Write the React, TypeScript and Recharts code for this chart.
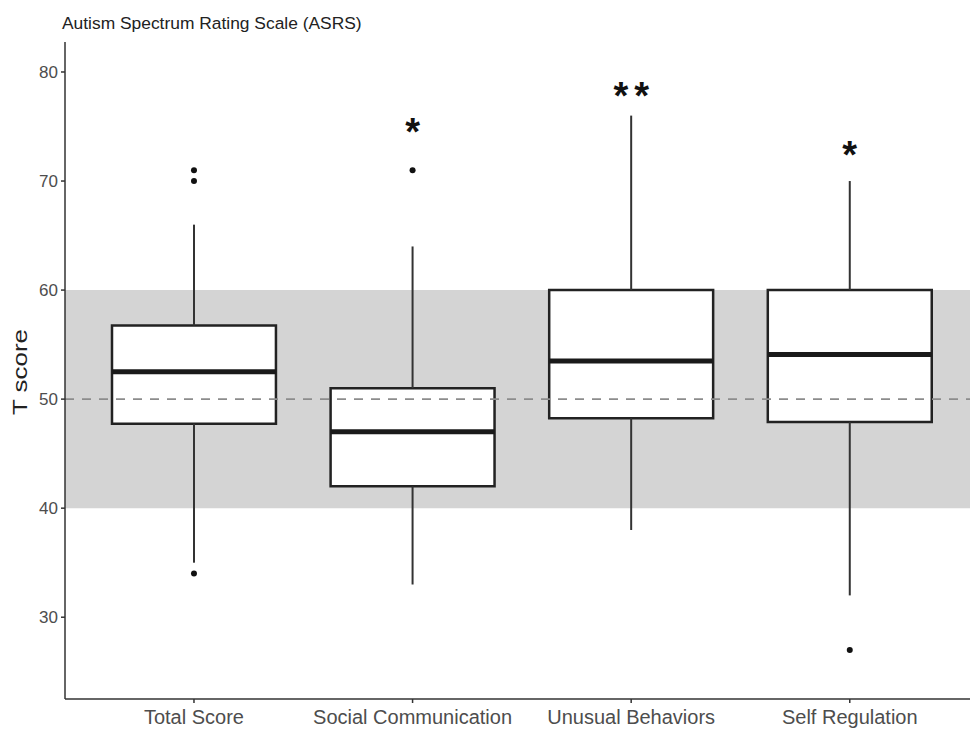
import {
  ComposedChart,
  XAxis,
  YAxis,
  ReferenceArea,
  ReferenceLine,
  Scatter,
} from 'recharts';

const categories = ['Total Score', 'Social Communication', 'Unusual Behaviors', 'Self Regulation'];
const whiskerLow = [35, 33, 38, 32];
const q1 = [47.75, 42, 48.25, 47.9];
const medians = [52.5, 47, 53.5, 54.1];
const q3 = [56.75, 51, 60, 60];
const whiskerHigh = [66, 64, 76, 70];
const outliers = [[34, 70, 71], [71], [], [27]];
const sigLabels = ['', '*', '**', '*'];
const sigLevels = [0, 75.3, 78.6, 73.2];
const yTicks = [30, 40, 50, 60, 70, 80];
const normalBand = [40, 60];
const meanT = 50;

const FONT = '"Liberation Sans", Arial, sans-serif';
const HALF_BOX = 0.375;

const boxData = categories.map((name, i) => ({ x: i + 1, name }));
const outlierPoints = outliers.flatMap((vals, i) => vals.map((v) => ({ x: i + 1, y: v })));
const sigPoints = sigLabels
  .map((label, i) => ({ x: i + 1, y: sigLevels[i], label }))
  .filter((p) => p.label);

const OutlierDot = (props: any) => <circle cx={props.cx} cy={props.cy} r={3} fill="#111" />;

// asterisk glyph sits high in the em box, so push the baseline down;
// letterSpacing adds trailing space, so nudge right by half of it
const SigMark = (props: any) => (
  <text
    x={props.cx + 3}
    y={props.cy + 22}
    textAnchor="middle"
    fontFamily={FONT}
    fontWeight="bold"
    fontSize={38}
    letterSpacing={6}
    fill="#111"
  >
    {props.payload.label}
  </text>
);

export default function App() {
  return (
    <div style={{ position: 'absolute', left: 0, top: 0, width: 970, height: 731, background: '#fff' }}>
      <ComposedChart width={970} height={731} data={boxData} margin={{ top: 42, right: 0, bottom: 0, left: 0 }}>
        <XAxis
          type="number"
          dataKey="x"
          domain={[0.41, 4.55]}
          ticks={[1, 2, 3, 4]}
          allowDataOverflow
          tickFormatter={(v) => categories[v - 1]}
          height={32}
          stroke="#333"
          strokeWidth={1.5}
          tickSize={4}
          tickMargin={7}
          tick={{ fill: '#4d4d4d', fontSize: 20, fontFamily: FONT }}
        />
        <YAxis
          type="number"
          domain={[22.5, 82.75]}
          ticks={yTicks}
          allowDataOverflow
          width={65}
          stroke="#333"
          strokeWidth={1.5}
          tickSize={4}
          tickMargin={3}
          tick={{ fill: '#4d4d4d', fontSize: 17, fontFamily: FONT }}
        />
        <ReferenceArea y1={normalBand[0]} y2={normalBand[1]} fill="#d4d4d4" fillOpacity={1} stroke="none" />
        {categories.map((c, i) => (
          <ReferenceLine
            key={`wh-${c}`}
            segment={[{ x: i + 1, y: q3[i] }, { x: i + 1, y: whiskerHigh[i] }]}
            stroke="#333"
            strokeWidth={2}
          />
        ))}
        {categories.map((c, i) => (
          <ReferenceLine
            key={`wl-${c}`}
            segment={[{ x: i + 1, y: whiskerLow[i] }, { x: i + 1, y: q1[i] }]}
            stroke="#333"
            strokeWidth={2}
          />
        ))}
        {categories.map((c, i) => (
          <ReferenceArea
            key={`box-${c}`}
            x1={i + 1 - HALF_BOX}
            x2={i + 1 + HALF_BOX}
            y1={q1[i]}
            y2={q3[i]}
            fill="#fff"
            fillOpacity={1}
            stroke="#222"
            strokeWidth={2.5}
          />
        ))}
        {categories.map((c, i) => (
          <ReferenceLine
            key={`med-${c}`}
            segment={[{ x: i + 1 - HALF_BOX, y: medians[i] }, { x: i + 1 + HALF_BOX, y: medians[i] }]}
            stroke="#1a1a1a"
            strokeWidth={5}
          />
        ))}
        <ReferenceLine y={meanT} stroke="#8c8c8c" strokeWidth={1.8} strokeDasharray="9 8" />
        <Scatter data={outlierPoints} dataKey="y" shape={OutlierDot} isAnimationActive={false} />
        <Scatter data={sigPoints} dataKey="y" shape={SigMark} isAnimationActive={false} />
      </ComposedChart>
      <svg width={970} height={731} style={{ position: 'absolute', left: 0, top: 0, pointerEvents: 'none' }}>
        <text x={62} y={29} fontFamily={FONT} fontSize={17.4} fill="#222">
          Autism Spectrum Rating Scale (ASRS)
        </text>
        <text
          x={27}
          y={372}
          transform="rotate(-90, 27, 372)"
          textAnchor="middle"
          fontFamily={FONT}
          fontSize={19.5}
          textLength={86}
          lengthAdjust="spacingAndGlyphs"
          fill="#222"
        >
          T score
        </text>
      </svg>
    </div>
  );
}
